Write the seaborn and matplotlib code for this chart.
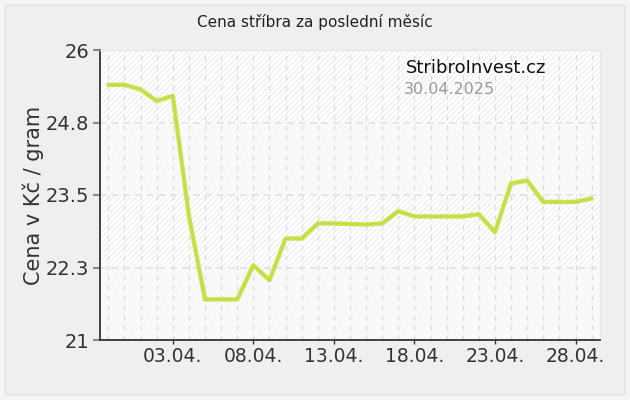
import numpy as np
import pandas as pd
import matplotlib
matplotlib.use("Agg")
import matplotlib.pyplot as plt
import matplotlib.dates as mdates
from matplotlib.patches import Rectangle, FancyBboxPatch
import seaborn as sns

# ---- data ----
start_date = "2025-03-30"
end_date = "2025-04-29"
prices = [25.40, 25.40, 25.32, 25.12, 25.21, 23.14, 21.70, 21.70, 21.70, 22.29,
          22.03, 22.75, 22.75, 23.01, 23.01, 23.00, 22.99, 23.01, 23.22, 23.13,
          23.13, 23.13, 23.13, 23.17, 22.86, 23.70, 23.75, 23.38, 23.38, 23.38,
          23.44]
y_ticks = [21, 22.25, 23.5, 24.75, 26]
y_tick_labels = ["21", "22.3", "23.5", "24.8", "26"]
title_text = "Cena stříbra za poslední měsíc"
y_label_text = "Cena v Kč / gram"
brand_text = "StribroInvest.cz"
date_text = "30.04.2025"

dates = pd.date_range(start_date, end_date, freq="D")
df = pd.DataFrame({"date": dates, "price": prices})

sns.set_theme(style="white")
plt.rcParams["font.family"] = ["DejaVu Sans"]
plt.rcParams["hatch.linewidth"] = 0.6

W, H = 630, 400
fig = plt.figure(figsize=(W / 100, H / 100), dpi=100)
fig.patch.set_facecolor("#f4f4f4")

# rounded outer frame
frame = FancyBboxPatch((5 / W, 5 / H), 620 / W, 390 / H,
                       boxstyle="round,pad=0,rounding_size=0.008",
                       transform=fig.transFigure, facecolor="#efefef",
                       edgecolor="#e2e2e2", linewidth=1.0, zorder=-10)
fig.patches.append(frame)

ax = fig.add_axes([100 / W, 1 - 340 / H, 500 / W, 290 / H])
ax.set_facecolor("#ffffff")

# hatched background
ax.add_patch(Rectangle((0, 0), 1, 1, transform=ax.transAxes, facecolor="#ffffff",
                       edgecolor="#e8e8e8", hatch="//////", linewidth=0, zorder=0))
# alternating lighter bands
for lo, hi in [(21, 22.25), (23.5, 24.75)]:
    ax.axhspan(lo, hi, color="#f9f9f9", alpha=0.7, zorder=0.5, linewidth=0)

# grid lines
for d in dates:
    ax.axvline(d, color="#dddddd", linestyle=(0, (4, 4)), linewidth=0.9, zorder=1)
for yt in y_ticks[1:-1]:
    ax.axhline(yt, color="#e2e2e2", linestyle=(0, (4, 3)), linewidth=1.2, zorder=1)

sns.lineplot(data=df, x="date", y="price", ax=ax, color="#c9e352",
             linewidth=3.2, zorder=3)
sns.lineplot(data=df, x="date", y="price", ax=ax, color="#bcd83c",
             linewidth=1.0, zorder=4, alpha=0.6)

pad = pd.Timedelta(hours=12.5)
ax.set_xlim(dates[0] - pad, dates[-1] + pad)
ax.set_ylim(21, 26)
ax.set_yticks(y_ticks)
ax.set_yticklabels(y_tick_labels)
ax.xaxis.set_major_locator(mdates.DayLocator(bymonthday=[3, 8, 13, 18, 23, 28]))
ax.xaxis.set_major_formatter(mdates.DateFormatter("%d.%m."))
ax.set_xlabel("")
ax.set_ylabel("")

ax.tick_params(axis="y", which="major", length=5, width=1.5, color="#888888",
               labelsize=14, labelcolor="#333333", pad=3, left=True)
ax.tick_params(axis="x", which="major", length=3, width=1, color="#333333",
               labelsize=13.5, labelcolor="#333333", pad=2, bottom=True)

for side in ["top", "right"]:
    ax.spines[side].set_visible(True)
    ax.spines[side].set_color("#e6e6e6")
    ax.spines[side].set_linewidth(1)
for side in ["left", "bottom"]:
    ax.spines[side].set_color("#333333")
    ax.spines[side].set_linewidth(1.3)

fig.text(315 / W, 1 - 22 / H, title_text, ha="center", va="center",
         fontsize=11, color="#222222")
fig.text(33 / W, 1 - 195 / H, y_label_text, ha="center", va="center",
         rotation=90, fontsize=15, color="#333333")
fig.text(406 / W, 1 - 68 / H, brand_text, ha="left", va="center",
         fontsize=13, color="#111111")
fig.text(404 / W, 1 - 89 / H, date_text, ha="left", va="center",
         fontsize=11.5, color="#9a9a9a")

fig.savefig("out.png", dpi=100, facecolor=fig.get_facecolor())
